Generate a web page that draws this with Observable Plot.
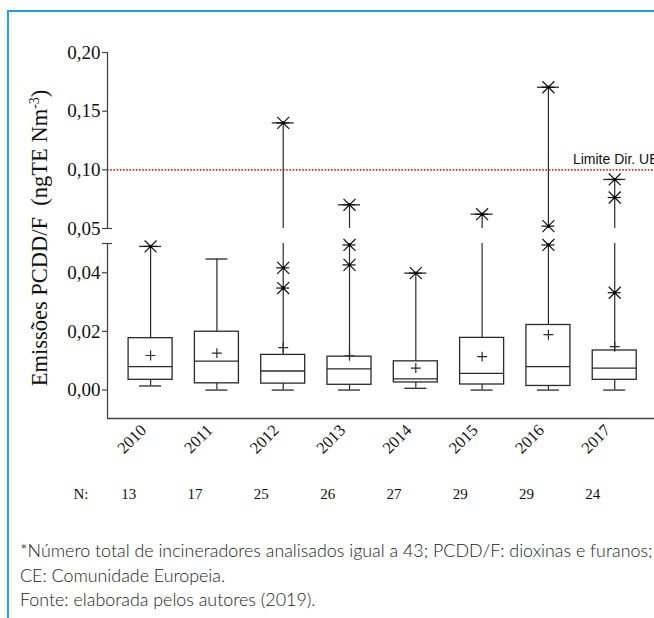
<!DOCTYPE html>
<html><head><meta charset="utf-8">
<script src="https://cdn.jsdelivr.net/npm/d3@7"></script>
<script src="https://cdn.jsdelivr.net/npm/@observablehq/plot@0.6"></script>
<style>
html,body{margin:0;padding:0;background:#fff;overflow:hidden;}
#wrap{position:relative;width:654px;height:618px;overflow:hidden;background:#fff;}
#frame{position:absolute;left:7px;top:10px;width:800px;height:800px;border-top:2px solid #1aa3dd;border-left:2px solid #1aa3dd;pointer-events:none;}
#chart{position:absolute;left:0;top:0;}
#caption{position:absolute;left:20px;top:538px;font-family:Lato,"Open Sans",sans-serif;font-weight:300;font-size:17.85px;line-height:24.5px;color:#222;white-space:nowrap;}
</style></head><body>
<div id="wrap"><div id="chart"></div><div id="frame"></div><div id="caption"></div></div>
<script>
// ---- data ----
const years = [2010, 2011, 2012, 2013, 2014, 2015, 2016, 2017];
const nSamples = [13, 17, 25, 26, 27, 29, 29, 24];
const minValues = [0.0014, 0.0000, 0.0000, 0.0000, 0.0006, 0.0000, 0.0000, 0.0000];
const q1Values = [0.0035, 0.0023, 0.0022, 0.0018, 0.0026, 0.0019, 0.0014, 0.0035];
const medianValues = [0.0080, 0.0099, 0.0065, 0.0072, 0.0038, 0.0057, 0.0080, 0.0075];
const q3Values = [0.0177, 0.0199, 0.0120, 0.0114, 0.0098, 0.0178, 0.0222, 0.0135];
const meanValues = [0.0118, 0.0126, 0.0145, 0.0117, 0.0075, 0.0114, 0.0189, 0.0148];
const maxValues = [0.0490, 0.0447, 0.1400, 0.0702, 0.0399, 0.0622, 0.1704, 0.0918];
const outlierValues = [
  [0.0490],
  [],
  [0.0348, 0.0417, 0.1400],
  [0.0427, 0.0495, 0.0702],
  [0.0399],
  [0.0622],
  [0.0495, 0.0520, 0.1704],
  [0.0332, 0.0764, 0.0918]
];
const yTicks = [0, 0.02, 0.04, 0.05, 0.10, 0.15, 0.20];
const limitValue = 0.10;
const limitLabel = "Limite Dir. UE";
const nLabel = "N:";
const axisTitleMain = "Emissões PCDD/F  (ngTE Nm";
const axisTitleSup = "-3";
const axisTitleEnd = ")";
const captionLines = [
  "*Número total de incineradores analisados igual a 43; PCDD/F: dioxinas e furanos;",
  "CE: Comunidade Europeia.",
  "Fonte: elaborada pelos autores (2019)."
];

// ---- layout ----
const W = 654, H = 520;
const xDomain = [-0.65, 7.6], xRange = [107, 654];
const pxU = (xDomain[1] - xDomain[0]) / (xRange[1] - xRange[0]); // x units per pixel
const BREAK = 0.05, EPS = 1e-9, Y_LOW = -0.0097, Y_TOP = 0.20;
const X0 = xDomain[0];
const serif = "'Liberation Serif','Times New Roman',serif";

const table = years.map((year, i) => ({
  i, year, n: nSamples[i], min: minValues[i], q1: q1Values[i], med: medianValues[i],
  q3: q3Values[i], mean: meanValues[i], max: maxValues[i]
}));
const outliers = outlierValues.flatMap((arr, i) => arr.map(v => ({i, v})));
const lowerWhiskers = table.map(d => ({i: d.i, y1: d.min, y2: Math.min(d.max, BREAK - EPS)}));
const upperWhiskers = table.filter(d => d.max > BREAK).map(d => ({i: d.i, y1: BREAK, y2: d.max}));
const bw = 22 * pxU, cw = 11 * pxU, ow = 6.5 * pxU, tk = 5 * pxU;
const fmt = v => v.toFixed(2).replace(".", ",");
const ink = "#2a2a2a";

const plot = Plot.plot({
  width: W, height: H,
  marginLeft: 0, marginRight: 0, marginTop: 0, marginBottom: 0,
  x: {type: "linear", domain: xDomain, range: xRange, axis: null},
  y: {type: "linear", domain: [Y_LOW, BREAK, BREAK, Y_TOP], range: [418, 243, 228, 52], axis: null},
  marks: [
    // limit line
    Plot.ruleY([limitValue], {x1: X0, x2: xDomain[1], stroke: "#e3241b", strokeWidth: 1.6, strokeDasharray: "1.6,1.6"}),
    Plot.text([limitLabel], {x: 6.37, y: limitValue, text: d => d, dy: -10, textAnchor: "start", fontFamily: "'Liberation Sans',Arial,sans-serif", fontSize: 14, fill: "#111"}),
    // axes
    Plot.ruleY([Y_LOW], {x1: X0, x2: xDomain[1], stroke: "#444", strokeWidth: 1.3}),
    Plot.ruleX([X0], {y1: Y_LOW, y2: BREAK - EPS, stroke: "#444", strokeWidth: 1.3}),
    Plot.ruleX([X0], {y1: BREAK, y2: Y_TOP, stroke: "#444", strokeWidth: 1.3}),
    Plot.ruleY(yTicks, {y: d => d, x1: X0 - tk, x2: X0, stroke: "#444", strokeWidth: 1.2}),
    Plot.ruleY([BREAK], {x1: X0, x2: X0 + tk, stroke: "#444", strokeWidth: 1.2}),
    Plot.ruleY([BREAK - EPS], {x1: X0 - tk, x2: X0 + tk, stroke: "#444", strokeWidth: 1.2}),
    Plot.text(yTicks, {x: X0, y: d => d, text: fmt, textAnchor: "end", dx: -7, fontFamily: serif, fontSize: 19, fill: "#111"}),
    // whiskers
    Plot.ruleX(lowerWhiskers, {x: "i", y1: "y1", y2: "y2", stroke: ink, strokeWidth: 1.2}),
    Plot.ruleX(upperWhiskers, {x: "i", y1: "y1", y2: "y2", stroke: ink, strokeWidth: 1.2}),
    Plot.ruleY(table, {y: "min", x1: d => d.i - cw, x2: d => d.i + cw, stroke: ink, strokeWidth: 1.3}),
    Plot.ruleY(table, {y: "max", x1: d => d.i - cw, x2: d => d.i + cw, stroke: ink, strokeWidth: 1.3}),
    // boxes
    Plot.rect(table, {x1: d => d.i - bw, x2: d => d.i + bw, y1: "q1", y2: "q3", fill: "white", stroke: ink, strokeWidth: 1.3}),
    Plot.ruleY(table, {y: "med", x1: d => d.i - bw, x2: d => d.i + bw, stroke: ink, strokeWidth: 1.3}),
    // means
    Plot.dot(table, {x: "i", y: "mean", symbol: "plus", r: 3.3, stroke: ink, strokeWidth: 1.2}),
    // outliers (asterisks)
    Plot.dot(outliers, {x: "i", y: "v", symbol: "times", r: 5.5, stroke: "#111", strokeWidth: 1.2}),
    Plot.ruleY(outliers, {y: "v", x1: d => d.i - ow, x2: d => d.i + ow, stroke: "#111", strokeWidth: 1.2}),
    Plot.dot(outliers, {x: "i", y: "v", r: 1.7, fill: "#000", stroke: "none"}),
    // x labels and N row
    Plot.text(table, {x: "i", y: Y_LOW, text: d => String(d.year), rotate: -45, textAnchor: "end", dx: -7, dy: 9, fontFamily: serif, fontSize: 16.5, fill: "#111"}),
    Plot.text(table, {x: d => d.i - 0.33, y: Y_LOW, text: d => String(d.n), dy: 76, fontFamily: serif, fontSize: 15, fill: "#111"}),
    Plot.text([nLabel], {x: -1.05, y: Y_LOW, text: d => d, dy: 76, fontFamily: serif, fontSize: 15, fill: "#111"})
  ]
});
document.getElementById("chart").appendChild(plot);

// rotated y-axis title with superscript
const title = d3.select(plot).append("text")
  .attr("transform", "translate(47,238) rotate(-90)")
  .attr("text-anchor", "middle")
  .attr("font-family", serif)
  .attr("font-size", 22.5)
  .attr("fill", "#111")
  .style("white-space", "pre");
title.append("tspan").text(axisTitleMain);
title.append("tspan").attr("dy", -8).attr("font-size", 14).text(axisTitleSup);
title.append("tspan").attr("dy", 8).text(axisTitleEnd);

// caption
const cap = document.getElementById("caption");
captionLines.forEach(t => { const div = document.createElement("div"); div.textContent = t; cap.appendChild(div); });
</script>
</body></html>
